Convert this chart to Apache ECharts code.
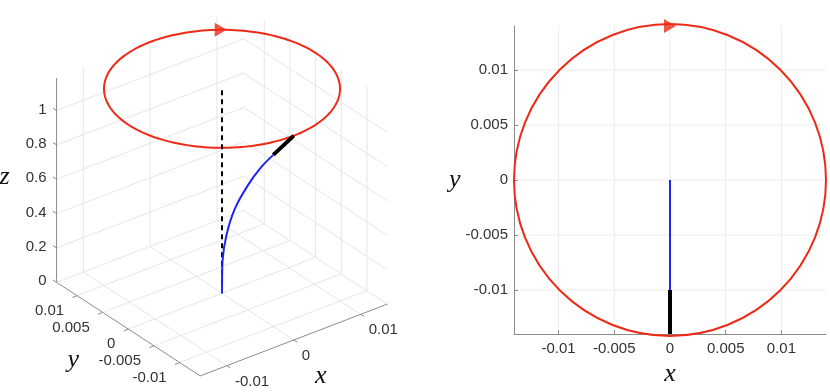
<!DOCTYPE html>
<html>
<head>
<meta charset="utf-8">
<script src="https://cdn.jsdelivr.net/npm/echarts@6/dist/echarts.min.js"></script>
<style>
  html, body { margin: 0; padding: 0; background: #fff; }
  #chart { width: 830px; height: 392px; }
</style>
</head>
<body>
<div id="chart"></div>
<script>
// ---- data ----
const orbitR = 0.014;       // radius of the red orbit
const orbitZ = 1.19;        // height of the orbit
const xLim = [-0.014, 0.014];
const yLim = [-0.014, 0.014];
const zLim = [0, 1.19];

const xTicks3d = [-0.01, 0, 0.01];
const yTicks3d = [-0.01, -0.005, 0, 0.005, 0.01];
const zTicks3d = [0, 0.2, 0.4, 0.6, 0.8, 1];
const ticks2d = [-0.01, -0.005, 0, 0.005, 0.01];

// blue curve (x stays 0)
const curveX = [0, 0, 0, 0, 0, 0, 0, 0];
const curveY = [0, -0.00002, -0.0001, -0.0009, -0.0025, -0.0051, -0.0076, -0.0100];
const curveZ = [0, 0.09, 0.19, 0.36, 0.54, 0.73, 0.88, 1.0];

// thick black end piece
const tipX = [0, 0];
const tipY = [-0.0100, -0.014];
const tipZ = [1.0, 1.19];

// dashed vertical line
const dashX = [0, 0];
const dashY = [0, 0];
const dashZ = [0, 1.19];

// arrow markers
const arrow3d = [0.0084, 0.0112, 1.19];
const arrow2d = [0, 0.014];

// ---- style ----
const RED = '#ee2a16';
const BLUE = '#1c26f0';
const GRID = '#e6e6e6';
const AXIS = '#8c8c8c';
const TXT = '#333';
const FONT = 'Liberation Sans';
const MATH = 'Liberation Serif';
const FS = 15;

// ---- 3D projection (matlab default view) ----
const AZ = -37.5 * Math.PI / 180;
const EL = 30 * Math.PI / 180;
const BOX = 236;          // px size of the unit box
const CX = 222, CY = 191; // screen position of the box centre

function project(x, y, z) {
  const xn = (x - xLim[0]) / (xLim[1] - xLim[0]) - 0.5;
  const yn = (y - yLim[0]) / (yLim[1] - yLim[0]) - 0.5;
  const zn = (z - zLim[0]) / (zLim[1] - zLim[0]) - 0.5;
  const u = BOX * (xn * Math.cos(AZ) + yn * Math.sin(AZ));
  const v = BOX * (-xn * Math.sin(AZ) * Math.sin(EL) + yn * Math.cos(AZ) * Math.sin(EL) + zn * Math.cos(EL));
  return [u, v];
}

// grid lines on floor and back walls
const gridSegs = [];
const axisSegs = [];
function seg(list, a, b) {
  const p = project(a[0], a[1], a[2]);
  const q = project(b[0], b[1], b[2]);
  list.push([p[0], p[1], q[0], q[1]]);
}
xTicks3d.forEach(x => {
  seg(gridSegs, [x, yLim[0], 0], [x, yLim[1], 0]);
  seg(gridSegs, [x, yLim[1], zLim[0]], [x, yLim[1], zLim[1]]);
});
yTicks3d.forEach(y => {
  seg(gridSegs, [xLim[0], y, 0], [xLim[1], y, 0]);
  seg(gridSegs, [xLim[1], y, zLim[0]], [xLim[1], y, zLim[1]]);
});
zTicks3d.forEach(z => {
  seg(gridSegs, [xLim[0], yLim[1], z], [xLim[1], yLim[1], z]);
  seg(gridSegs, [xLim[1], yLim[0], z], [xLim[1], yLim[1], z]);
});

// axis lines + tick marks
const TK = 0.0007;
seg(axisSegs, [xLim[0], yLim[0], 0], [xLim[1], yLim[0], 0]);
seg(axisSegs, [xLim[0], yLim[0], 0], [xLim[0], yLim[1], 0]);
seg(axisSegs, [xLim[0], yLim[1], zLim[0]], [xLim[0], yLim[1], zLim[1]]);
xTicks3d.forEach(x => seg(axisSegs, [x, yLim[0], 0], [x, yLim[0] - TK, 0]));
yTicks3d.forEach(y => seg(axisSegs, [xLim[0], y, 0], [xLim[0] - TK, y, 0]));
zTicks3d.forEach(z => seg(axisSegs, [xLim[0], yLim[1], z], [xLim[0], yLim[1] + TK, z]));

// tick labels and axis titles
const labels3d = [];
function label(p3, text, align, dx, dy, math) {
  const p = project(p3[0], p3[1], p3[2]);
  labels3d.push({ u: p[0], v: p[1], text, align, dx, dy, math });
}
zTicks3d.forEach(z => label([xLim[0], yLim[1], z], String(z), 'right', -10, -1));
yTicks3d.forEach(y => label([xLim[0], y, 0], String(y), 'right', -13, 15));
xTicks3d.forEach(x => label([x, yLim[0], 0], String(x), 'left', 8, 16));
label([xLim[0], yLim[1], (zLim[0] + zLim[1]) / 2], 'z', 'center', -52, -3, true);
label([xLim[0], 0, 0], 'y', 'center', -55, 31, true);
label([0, yLim[0], 0], 'x', 'center', 27, 36, true);

const curve3d = curveY.map((y, i) => project(curveX[i], y, curveZ[i]));
const tip3d = tipY.map((y, i) => project(tipX[i], y, tipZ[i]));
const dash3d = dashZ.map((z, i) => project(dashX[i], dashY[i], z));
const arrowPos3d = project(arrow3d[0], arrow3d[1], arrow3d[2]);

const curve2d = curveY.map((y, i) => [curveX[i], y]);
const tip2d = tipY.map((y, i) => [tipX[i], y]);

// gridlines for the 2D panel
const grid2d = [];
ticks2d.forEach(t => {
  grid2d.push([t, yLim[0], t, yLim[1]]);
  grid2d.push([xLim[0], t, xLim[1], t]);
});

function segRender(color, width) {
  return (params, api) => {
    const p = api.coord([api.value(0), api.value(1)]);
    const q = api.coord([api.value(2), api.value(3)]);
    return {
      type: 'line',
      shape: { x1: p[0], y1: p[1], x2: q[0], y2: q[1] },
      style: { stroke: color, lineWidth: width }
    };
  };
}

const chart = echarts.init(document.getElementById('chart'));

const option = {
  animation: false,
  backgroundColor: '#fff',
  grid: [
    { left: 0, top: 0, width: 415, height: 392 },
    { left: 514, top: 26, width: 312, height: 311 }
  ],
  xAxis: [
    { gridIndex: 0, type: 'value', min: -CX, max: 415 - CX, show: false },
    {
      gridIndex: 1, type: 'value', min: xLim[0], max: xLim[1],
      name: 'x', nameLocation: 'middle', nameGap: 40,
      nameTextStyle: { fontFamily: MATH, fontStyle: 'italic', fontSize: 26, color: '#111', align: 'center', verticalAlign: 'middle' },
      axisLine: { onZero: false, lineStyle: { color: AXIS, width: 1 } },
      axisTick: { inside: true, length: 4, customValues: ticks2d, lineStyle: { color: AXIS } },
      axisLabel: { customValues: ticks2d, margin: 7, fontFamily: FONT, fontSize: FS, color: TXT },
      splitLine: { show: false }
    }
  ],
  yAxis: [
    { gridIndex: 0, type: 'value', min: CY - 392, max: CY, show: false },
    {
      gridIndex: 1, type: 'value', min: yLim[0], max: yLim[1],
      name: 'y', nameLocation: 'middle', nameGap: 49, nameRotate: 0,
      nameTextStyle: { fontFamily: MATH, fontStyle: 'italic', fontSize: 26, color: '#111', align: 'center', verticalAlign: 'middle' },
      axisLine: { onZero: false, lineStyle: { color: AXIS, width: 1 } },
      axisTick: { inside: true, length: 4, customValues: ticks2d, lineStyle: { color: AXIS } },
      axisLabel: { customValues: ticks2d, margin: 6, fontFamily: FONT, fontSize: FS, color: TXT },
      splitLine: { show: false }
    }
  ],
  series: [
    // ---- left: 3D view ----
    {
      type: 'custom', xAxisIndex: 0, yAxisIndex: 0, silent: true, clip: false,
      encode: { x: [0, 2], y: [1, 3] },
      data: gridSegs, renderItem: segRender(GRID, 1)
    },
    {
      type: 'custom', xAxisIndex: 0, yAxisIndex: 0, silent: true, clip: false,
      encode: { x: [0, 2], y: [1, 3] },
      data: axisSegs, renderItem: segRender(AXIS, 1)
    },
    {
      type: 'custom', xAxisIndex: 0, yAxisIndex: 0, silent: true, clip: false,
      data: labels3d.map(l => [l.u, l.v]),
      renderItem: (params, api) => {
        const l = labels3d[params.dataIndex];
        const p = api.coord([l.u, l.v]);
        return {
          type: 'text', x: p[0] + l.dx, y: p[1] + l.dy,
          style: {
            text: l.text, align: l.align, verticalAlign: 'middle',
            fontFamily: l.math ? MATH : FONT, fontStyle: l.math ? 'italic' : 'normal',
            fontSize: l.math ? 26 : FS, fill: l.math ? '#111' : TXT
          }
        };
      }
    },
    {
      type: 'line', xAxisIndex: 0, yAxisIndex: 0, data: dash3d,
      symbol: 'none', lineStyle: { color: '#000', width: 2, type: [5, 4] }
    },
    {
      type: 'line', xAxisIndex: 0, yAxisIndex: 0, data: curve3d, smooth: 0.4,
      symbol: 'none', lineStyle: { color: BLUE, width: 2 }
    },
    {
      type: 'line', xAxisIndex: 0, yAxisIndex: 0, data: tip3d,
      symbol: 'none', lineStyle: { color: '#000', width: 4 }
    },
    {
      type: 'custom', xAxisIndex: 0, yAxisIndex: 0, silent: true, clip: false,
      data: [[0, 0, orbitZ, orbitR]],
      renderItem: (params, api) => {
        const z = api.value(2), r = api.value(3);
        const pts = [];
        for (let k = 0; k <= 180; k++) {
          const a = k / 180 * 2 * Math.PI;
          const p = project(r * Math.cos(a), r * Math.sin(a), z);
          pts.push(api.coord(p));
        }
        return { type: 'polyline', shape: { points: pts }, style: { stroke: RED, lineWidth: 2, fill: 'none' } };
      }
    },
    {
      type: 'scatter', xAxisIndex: 0, yAxisIndex: 0, data: [arrowPos3d],
      symbol: 'triangle', symbolRotate: -90, symbolSize: [14, 12],
      itemStyle: { color: RED }
    },

    // ---- right: top view ----
    {
      type: 'custom', xAxisIndex: 1, yAxisIndex: 1, silent: true,
      encode: { x: [0, 2], y: [1, 3] },
      data: grid2d, renderItem: segRender('#ececec', 1), z: 0
    },
    {
      type: 'custom', xAxisIndex: 1, yAxisIndex: 1, silent: true, clip: false,
      data: [[0, 0, orbitR]],
      renderItem: (params, api) => {
        const c = api.coord([api.value(0), api.value(1)]);
        const r = api.size([api.value(2), 0])[0];
        return { type: 'circle', shape: { cx: c[0], cy: c[1], r }, style: { stroke: RED, lineWidth: 2, fill: 'none' } };
      }
    },
    {
      type: 'line', xAxisIndex: 1, yAxisIndex: 1, data: curve2d,
      symbol: 'none', lineStyle: { color: BLUE, width: 2 }
    },
    {
      type: 'line', xAxisIndex: 1, yAxisIndex: 1, data: tip2d,
      symbol: 'none', lineStyle: { color: '#000', width: 4 }
    },
    {
      type: 'scatter', xAxisIndex: 1, yAxisIndex: 1, data: [arrow2d],
      symbol: 'triangle', symbolRotate: -90, symbolSize: [14, 12],
      itemStyle: { color: RED }
    }
  ]
};

chart.setOption(option);
</script>
</body>
</html>
